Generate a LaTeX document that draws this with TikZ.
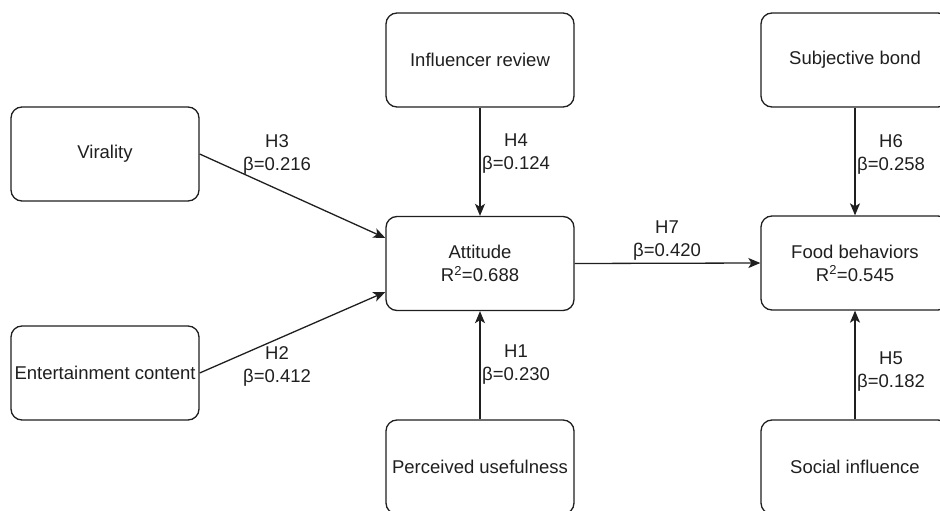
\documentclass[tikz,border=0pt]{standalone}
\usepackage{fontspec}
\setmainfont{Liberation Sans}
\usetikzlibrary{arrows.meta,calc}
\begin{document}
\begin{tikzpicture}[x=1pt,y=-1pt,
  box/.style={draw=black!88, line width=1.3pt, rounded corners=11pt,
    minimum width=188pt, minimum height=94pt, inner sep=0pt, align=center,
    font=\fontsize{18.5}{23}\selectfont, text=black!88},
  lbl/.style={align=center, inner sep=0pt, text=black!88,
    font=\fontsize{18.5}{23}\selectfont},
  link/.style={line width=1.3pt, draw=black!88,
    -{Stealth[length=12pt,width=10pt,inset=3pt]}}]
\useasboundingbox (0,0) rectangle (940,511);
\clip (0,0) rectangle (940,511);

% constructs
\node[box] (vir)  at (105,154)   {Virality};
\node[box] (ent)  at (105,373)   {Entertainment content};
\node[box] (inf)  at (480,60)    {Influencer review};
\node[box] (att)  at (480,263.5) {Attitude\\R\textsuperscript{2}=0.688};
\node[box] (per)  at (480,467)   {Perceived usefulness};
\node[box] (sub)  at (855,60)    {Subjective bond};
\node[box] (food) at (855,263)   {Food behaviors\\R\textsuperscript{2}=0.545};
\node[box] (soc)  at (855,467)   {Social influence};

% paths
\draw[link] (vir.east) -- ($(att.west)+(0,-25.5)$);
\draw[link] (ent.east) -- ($(att.west)+(0,28.5)$);
\draw[link] (inf.south) -- (att.north);
\draw[link] (per.north) -- (att.south);
\draw[link] (att.east) -- (food.west);
\draw[link] (sub.south) -- (food.north);
\draw[link] (soc.north) -- (food.south);

% path coefficients
\node[lbl] (h3) at (277,154) {H3\\β=0.216};
\node[lbl] (h2) at (277,366) {H2\\β=0.412};
\node[lbl] (h4) at (516,154) {H4\\β=0.124};
\node[lbl] (h1) at (516,365) {H1\\β=0.230};
\node[lbl] (h7) at (667,241) {H7\\β=0.420};
\node[lbl] (h6) at (891,154) {H6\\β=0.258};
\node[lbl] (h5) at (891,372) {H5\\β=0.182};
\end{tikzpicture}
\end{document}
